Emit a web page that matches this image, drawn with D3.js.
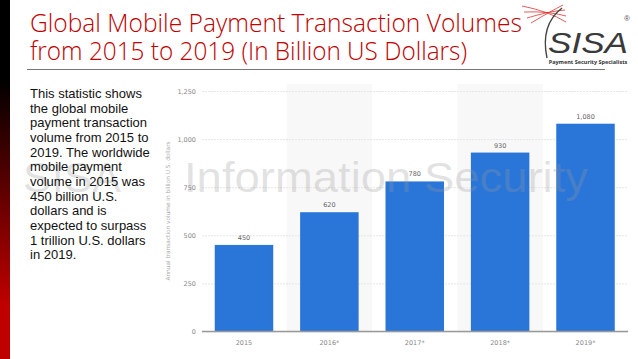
<!DOCTYPE html>
<html>
<head>
<meta charset="utf-8">
<script src="https://cdn.jsdelivr.net/npm/d3@7"></script>
<style>
  html, body { margin: 0; padding: 0; background: #fff; }
  svg { display: block; }
</style>
</head>
<body>
<svg id="slide" width="638" height="359"></svg>
<script>
const years = ['2015', '2016*', '2017*', '2018*', '2019*']
const volumes = [450, 620, 780, 930, 1080]
const yTicks = [0, 250, 500, 750, 1000, 1250]
const titleLines = ['Global Mobile Payment Transaction Volumes', 'from 2015 to 2019 (In Billion US Dollars)']
const blurbLines = [
    'This statistic shows', 'the global mobile', 'payment transaction', 'volume from 2015 to',
    '2019. The worldwide', 'mobile payment', 'volume in 2015 was', '450 billion U.S.',
    'dollars and is', 'expected to surpass', '1 trillion U.S. dollars', 'in 2019.'
]
const yAxisTitle = 'Annual transaction volume in billion U.S. dollars'

const svg = d3.select('#slide')
const fmt = d3.format(',')

// left gradient strip
const defs = svg.append('defs')
const grad = defs.append('linearGradient')
    .attr('id', 'strip').attr('x1', 0).attr('y1', 0).attr('x2', 0).attr('y2', 1)
grad.append('stop').attr('offset', '0%').attr('stop-color', '#000')
grad.append('stop').attr('offset', '22%').attr('stop-color', '#000')
grad.append('stop').attr('offset', '85%').attr('stop-color', '#c00000')
grad.append('stop').attr('offset', '100%').attr('stop-color', '#c00000')
svg.append('rect').attr('x', 0).attr('y', 0).attr('width', 10).attr('height', 359).attr('fill', 'url(#strip)')

// title
svg.append('g').selectAll('text')
    .data(titleLines)
    .enter().append('text')
    .attr('x', 30)
    .attr('y', (d, i) => 32 + i * 28)
    .attr('textLength', (d, i) => i === 0 ? 492 : 437)
    .attr('lengthAdjust', 'spacingAndGlyphs')
    .attr('font-family', 'Open Sans, Lato, sans-serif')
    .attr('font-weight', 300)
    .attr('font-size', 25)
    .attr('fill', '#c00000')
    .text(d => d)

svg.append('line')
    .attr('x1', 27).attr('x2', 605).attr('y1', 69.5).attr('y2', 69.5)
    .attr('stroke', '#777').attr('stroke-width', 1)

// logo
const logo = svg.append('g')
const swoosh = [[522, 6, 566, 22], [524, 12, 566, 16], [527, 18, 565, 10], [531, 23, 563, 5]]
logo.selectAll('path.sw')
    .data(swoosh)
    .enter().append('path')
    .attr('d', d => `M${d[0]},${d[1]} Q${(d[0] + d[2]) / 2 + 4},${(d[1] + d[3]) / 2 - 3} ${d[2]},${d[3]}`)
    .attr('fill', 'none').attr('stroke', '#d33').attr('stroke-width', 0.8)
logo.append('path')
    .attr('d', 'M562,8 Q540,25 547,58')
    .attr('fill', 'none').attr('stroke', '#444').attr('stroke-width', 1.4)
logo.append('text')
    .attr('x', 548).attr('y', 53)
    .attr('font-family', 'Liberation Sans, Arial, sans-serif')
    .attr('font-style', 'italic')
    .attr('font-size', 30)
    .attr('textLength', 80)
    .attr('lengthAdjust', 'spacingAndGlyphs')
    .attr('fill', '#3a3a3a')
    .text('SISA')
logo.append('text')
    .attr('x', 624).attr('y', 21)
    .attr('font-family', 'Liberation Sans, Arial, sans-serif')
    .attr('font-size', 8).attr('fill', '#555')
    .text('®')
logo.append('text')
    .attr('x', 588).attr('y', 64)
    .attr('text-anchor', 'middle')
    .attr('font-family', 'Open Sans, sans-serif')
    .attr('font-weight', 'bold')
    .attr('font-size', 5.5)
    .attr('fill', '#333')
    .text('Payment Security Specialists')

// chart
const x = d3.scaleBand()
    .domain(years)
    .range([201.3, 628.2])
    .paddingInner(0.315)
    .paddingOuter(0.1575)
const y = d3.scaleLinear().domain([0, 1250]).range([331.5, 91])

const chart = svg.append('g')

chart.selectAll('rect.band')
    .data(years.filter((d, i) => i % 2 === 1))
    .enter().append('rect')
    .attr('class', 'band')
    .attr('x', d => x(d) - x.step() * x.paddingInner() / 2)
    .attr('width', x.step())
    .attr('y', 84)
    .attr('height', y(0) - 84)
    .attr('fill', '#f8f8f8')

const yAxis = chart.append('g')
    .attr('transform', 'translate(202,0)')
    .call(d3.axisLeft(y).tickValues(yTicks).tickFormat(fmt).tickSize(-(628 - 202)).tickPadding(6))
yAxis.select('.domain').remove()
yAxis.selectAll('.tick line').attr('stroke', '#e6e6e6').attr('stroke-dasharray', '2,1')
yAxis.selectAll('.tick text')
    .attr('font-family', 'DejaVu Sans, sans-serif')
    .attr('font-size', 6.5)
    .attr('fill', '#888')

chart.append('text')
    .attr('transform', 'translate(170,211) rotate(-90)')
    .attr('text-anchor', 'middle')
    .attr('font-family', 'DejaVu Sans, sans-serif')
    .attr('font-size', 5.8)
    .attr('fill', '#aaa')
    .text(yAxisTitle)

chart.selectAll('rect.bar')
    .data(volumes)
    .enter().append('rect')
    .attr('class', 'bar')
    .attr('x', (d, i) => x(years[i]))
    .attr('width', x.bandwidth())
    .attr('y', d => y(d))
    .attr('height', d => y(0) - y(d))
    .attr('fill', '#2a76d8')

chart.selectAll('text.val')
    .data(volumes)
    .enter().append('text')
    .attr('class', 'val')
    .attr('x', (d, i) => x(years[i]) + x.bandwidth() / 2)
    .attr('y', d => y(d) - 5)
    .attr('text-anchor', 'middle')
    .attr('font-family', 'DejaVu Sans, sans-serif')
    .attr('font-size', 6.5)
    .attr('fill', '#666')
    .text(d => fmt(d))

chart.append('line')
    .attr('x1', 202).attr('x2', 628).attr('y1', y(0)).attr('y2', y(0))
    .attr('stroke', '#999').attr('stroke-width', 1.5)

chart.selectAll('text.yr')
    .data(years)
    .enter().append('text')
    .attr('class', 'yr')
    .attr('x', d => x(d) + x.bandwidth() / 2)
    .attr('y', 345)
    .attr('text-anchor', 'middle')
    .attr('font-family', 'DejaVu Sans, sans-serif')
    .attr('font-size', 6.5)
    .attr('fill', '#888')
    .text(d => d)

// watermark
const mark = svg.append('g')
    .attr('font-family', 'Liberation Sans, Arial, sans-serif')
    .attr('font-size', 43)
    .attr('fill', '#999')
    .attr('fill-opacity', 0.28)
mark.append('text')
    .attr('x', 121).attr('y', 192)
    .attr('text-anchor', 'end')
    .text('SISA')
mark.append('text')
    .attr('x', 184).attr('y', 192)
    .attr('textLength', 404)
    .attr('lengthAdjust', 'spacingAndGlyphs')
    .text('Information Security')

// blurb text
svg.append('g').selectAll('text')
    .data(blurbLines)
    .enter().append('text')
    .attr('x', 30)
    .attr('y', (d, i) => 98 + i * 14.67)
    .attr('font-family', 'Liberation Sans, Arial, sans-serif')
    .attr('font-size', 13)
    .attr('fill', '#111')
    .text(d => d)
</script>
</body>
</html>
